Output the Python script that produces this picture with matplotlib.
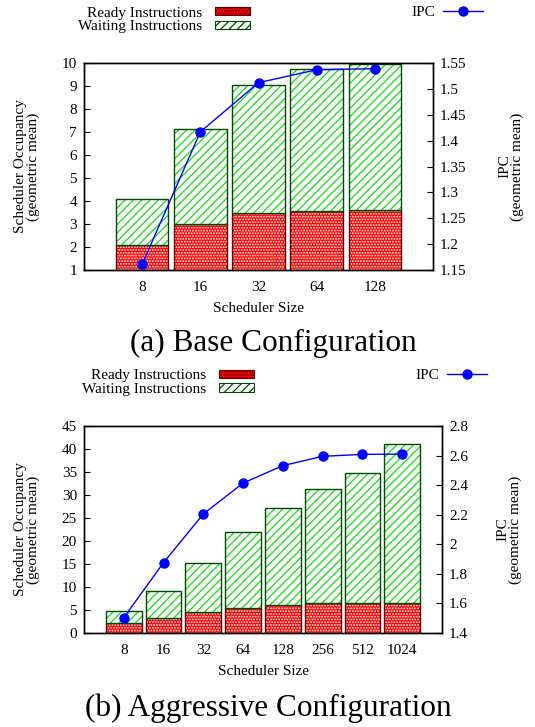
import matplotlib
matplotlib.use("Agg")
import matplotlib.pyplot as plt
from matplotlib.patches import Patch
from matplotlib.lines import Line2D
from matplotlib.ticker import FormatStrFormatter

plt.rcParams['font.family'] = ['Liberation Serif', 'DejaVu Serif']
plt.rcParams['font.size'] = 11
plt.rcParams['hatch.linewidth'] = 0.9

# (a) base configuration
sizes_a = ["8", "16", "32", "64", "128"]
ready_a = [2.1, 3.0, 3.5, 3.58, 3.6]
total_a = [4.1, 7.12, 9.05, 9.72, 9.95]
ipc_a = [1.161, 1.417, 1.512, 1.537, 1.539]

# (b) aggressive configuration
sizes_b = ["8", "16", "32", "64", "128", "256", "512", "1024"]
ready_b = [2.25, 3.33, 4.5, 5.5, 6.16, 6.45, 6.5, 6.5]
total_b = [4.86, 9.06, 15.3, 22.0, 27.2, 31.4, 34.7, 41.1]
ipc_b = [1.504, 1.876, 2.205, 2.414, 2.532, 2.595, 2.608, 2.61]

RED = '#ff0000'
GREEN = '#11dd11'
W = 535
H = 727

fig = plt.figure(figsize=(W / 100, H / 100), dpi=100)


def px(x0, y0, x1, y1):
    # pixel box -> figure fraction rect
    return [x0 / W, 1 - y1 / H, (x1 - x0) / W, (y1 - y0) / H]


def draw(rect, sizes, ready, total, ipc, ylim, yticks, y2lim, y2ticks, lx, rx):
    ax = fig.add_axes(rect)
    x = list(range(len(sizes)))
    waiting = [t - r for t, r in zip(total, ready)]
    bw = 0.9
    ax.bar(x, ready, bw, color=RED, edgecolor='white', hatch='......', linewidth=0)
    ax.bar(x, ready, bw, fill=False, edgecolor='#5a0000', linewidth=1.0)
    ax.bar(x, waiting, bw, bottom=ready, color='white', edgecolor=GREEN, hatch='////', linewidth=0)
    ax.bar(x, waiting, bw, bottom=ready, fill=False, edgecolor='#004a00', linewidth=1.0)
    ax.set_xlim(-1, len(sizes))
    ax.set_ylim(*ylim)
    ax.set_yticks(yticks)
    ax.set_xticks(x)
    ax.set_xticklabels(sizes)
    ax.tick_params(axis='x', length=0, pad=8)
    ax.tick_params(axis='y', direction='in', length=4, pad=5)
    ax.set_xlabel("Scheduler Size", labelpad=6)
    ax.set_ylabel("Scheduler Occupancy\n(geometric mean)", linespacing=0.95)
    ax.yaxis.set_label_coords(lx, 0.5)

    ax2 = ax.twinx()
    ax2.plot(x, ipc, color='#0000ff', linewidth=1.0, marker='o', markersize=6.5)
    ax2.set_ylim(*y2lim)
    ax2.set_yticks(y2ticks)
    ax2.yaxis.set_major_formatter(FormatStrFormatter('%g'))
    ax2.tick_params(axis='y', direction='in', length=4, pad=5)
    ax2.set_ylabel("IPC\n(geometric mean)", linespacing=0.95)
    ax2.yaxis.set_label_coords(rx, 0.5)
    for a in (ax, ax2):
        for s in a.spines.values():
            s.set_linewidth(1.0)
    return ax


def legends(bar_right, bar_y, ipc_right, ipc_y):
    h1 = [Patch(facecolor=RED, edgecolor='#5a0000', hatch='......', linewidth=0.8),
          Patch(facecolor='white', edgecolor='#004a00', hatch='////', linewidth=0.8)]
    fig.legend(h1, ["Ready Instructions", "Waiting Instructions"], loc='center right',
               bbox_to_anchor=(bar_right / W, 1 - bar_y / H), markerfirst=False,
               frameon=False, borderpad=0, borderaxespad=0, handlelength=2.3,
               handleheight=0.45, handletextpad=0.85, labelspacing=0.05)
    h2 = [Line2D([], [], color='#0000ff', linewidth=1.0, marker='o', markersize=6.5)]
    fig.legend(h2, ["IPC"], loc='center right', bbox_to_anchor=(ipc_right / W, 1 - ipc_y / H),
               markerfirst=False, frameon=False, borderpad=0, borderaxespad=0,
               handlelength=2.6, handletextpad=0.5)


draw(px(84, 63, 433, 270), sizes_a, ready_a, total_a, ipc_a,
     (1, 10), range(1, 11), (1.15, 1.55), [1.15 + 0.05 * i for i in range(9)], -0.126, 1.186)
legends(250, 20, 483, 12.5)
fig.text(273.5 / W, 1 - 343 / H, "(a) Base Configuration", fontsize=22.5, ha='center', va='center')

draw(px(84, 426, 442, 633), sizes_b, ready_b, total_b, ipc_b,
     (0, 45), range(0, 46, 5), (1.4, 2.8), [1.4 + 0.2 * i for i in range(8)], -0.123, 1.151)
legends(254, 382.5, 487, 375)
fig.text(268 / W, 1 - 708 / H, "(b) Aggressive Configuration", fontsize=22.5, ha='center', va='center')

fig.savefig("out.png", dpi=100)
